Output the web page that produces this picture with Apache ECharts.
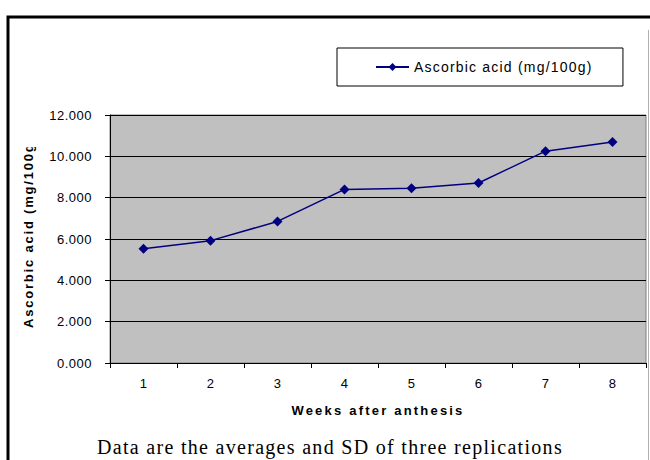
<!DOCTYPE html>
<html>
<head>
<meta charset="utf-8">
<script src="https://cdn.jsdelivr.net/npm/echarts@6/dist/echarts.min.js"></script>
<style>
  html, body { margin: 0; padding: 0; background: #fff; }
  #root { width: 650px; height: 460px; }
  /* 原图文字有字间距，用svg渲染后靠css补上 */
  #root text { letter-spacing: 0.5px; }
  #root text[style*="bold"] { letter-spacing: 2.2px; }
  #root text[style*="bolder"] { letter-spacing: 1.8px; }
  #root text[style*="14px"] { letter-spacing: 1.2px; }
  #root text[style*="Liberation Serif"] { letter-spacing: 1.3px; }
</style>
</head>
<body>
<div id="root"></div>
<script>
// 横轴：开花后周数
var weeks = ['1', '2', '3', '4', '5', '6', '7', '8'];
// 抗坏血酸含量 (mg/100g)
var ascorbic = [5.53, 5.92, 6.85, 8.40, 8.46, 8.71, 10.25, 10.69];
// 纵轴刻度
var yMin = 0, yMax = 12, yStep = 2;

var seriesName = 'Ascorbic acid (mg/100g)';
var sans = 'Liberation Sans, Arial, sans-serif';

var option = {
  animation: false,
  backgroundColor: '#fff',
  textStyle: { fontFamily: sans },
  grid: {
    left: 110, top: 115, width: 536, height: 248,
    show: true,
    backgroundColor: '#c0c0c0',
    borderColor: '#808080',
    borderWidth: 1
  },
  legend: {
    left: 337, top: 48,
    padding: [12, 58, 12, 38],
    borderColor: '#000', borderWidth: 1,
    itemWidth: 33, itemHeight: 10,
    textStyle: { fontSize: 14, color: '#000' },
    data: [seriesName]
  },
  xAxis: {
    type: 'category',
    data: weeks,
    boundaryGap: true,
    axisLine: { lineStyle: { color: '#000' } },
    axisTick: { show: true, length: 5, lineStyle: { color: '#000' } },
    axisLabel: { fontSize: 13, color: '#000', margin: 14 },
    name: 'Weeks after anthesis',
    nameLocation: 'middle',
    nameGap: 41,
    nameTextStyle: { fontSize: 13, fontWeight: 'bold', color: '#000' }
  },
  yAxis: {
    type: 'value',
    min: yMin, max: yMax, interval: yStep,
    axisLine: { show: true, lineStyle: { color: '#000' } },
    axisTick: { show: true, length: 5, lineStyle: { color: '#000' } },
    axisLabel: {
      fontSize: 13, color: '#000', margin: 18,
      formatter: function (v) { return v.toFixed(3); }
    },
    splitLine: { lineStyle: { color: '#000', width: 1 } }
  },
  series: [{
    name: seriesName,
    type: 'line',
    data: ascorbic,
    symbol: 'diamond',
    symbolSize: 10,
    lineStyle: { color: '#000080', width: 1.5 },
    itemStyle: { color: '#000080' }
  }],
  graphic: [
    // 外框
    { type: 'rect', shape: { x: 8, y: 17, width: 660, height: 470 },
      style: { fill: 'none', stroke: '#000', lineWidth: 3 }, z: 100 },
    { type: 'line', shape: { x1: 648.5, y1: 30, x2: 648.5, y2: 460 },
      style: { stroke: '#b0b0b0', lineWidth: 1 }, z: 100 },
    // 纵轴标题（顶部被截断）
    { type: 'text', x: 28, y: 328, rotation: Math.PI / 2, z: 90,
      style: { text: 'Ascorbic acid (mg/100g)', fontSize: 13, fontWeight: 'bolder',
        fill: '#000', align: 'left', verticalAlign: 'middle', fontFamily: sans } },
    { type: 'rect', shape: { x: 12, y: 20, width: 30, height: 127 },
      style: { fill: '#fff' }, z: 95 },
    // 说明文字
    { type: 'text', x: 330, y: 447, z: 90,
      style: { text: 'Data are the averages and SD of three replications',
        fontSize: 20, fill: '#000', align: 'center', verticalAlign: 'middle',
        fontFamily: 'Liberation Serif, Times New Roman' } }
  ]
};

var myChart = echarts.init(document.getElementById('root'), null, { renderer: 'svg' });
myChart.setOption(option);
</script>
</body>
</html>
